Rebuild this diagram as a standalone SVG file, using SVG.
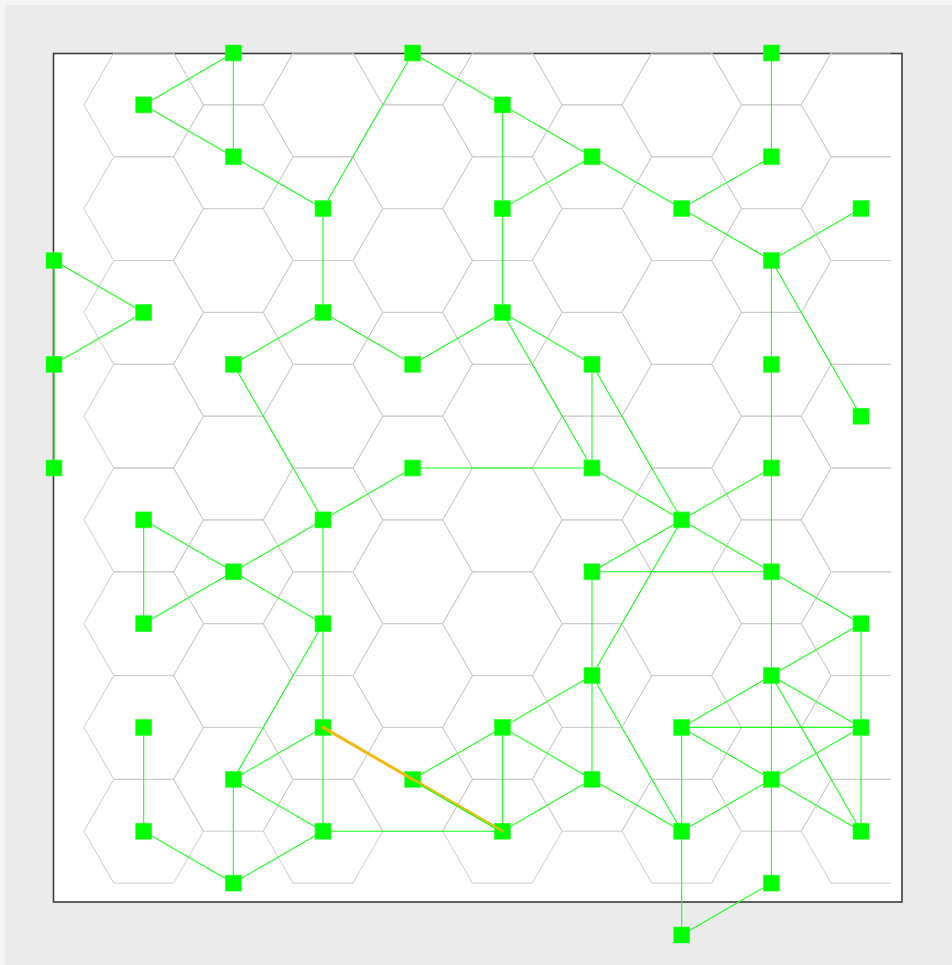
<svg xmlns="http://www.w3.org/2000/svg" xmlns:xlink="http://www.w3.org/1999/xlink" width="952" height="965" viewBox="0 0 952 965">
<style>
.hex{fill:none;stroke:#cdcdcd;stroke-width:1}
.e{stroke:#1cff1c;stroke-width:1.1;fill:none}
.n{fill:#00ff00;stroke:#3cff3c;stroke-width:0.6}
.hl{stroke:#f2b600;stroke-width:3;stroke-linecap:round;fill:none;opacity:0.95}
</style>
<defs>
<polygon id="hx" points="-59.78,0 -29.89,-51.88 29.89,-51.88 59.78,0 29.89,51.88 -29.89,51.88"/>
<path id="hxl" d="M29.89,-51.88 H-29.89 L-59.78,0 L-29.89,51.88 H29.89"/>
<g id="hcol">
<use href="#hx" y="0"/><use href="#hx" y="103.76"/><use href="#hx" y="207.52"/><use href="#hx" y="311.28"/>
<use href="#hx" y="415.04"/><use href="#hx" y="518.8"/><use href="#hx" y="622.56"/><use href="#hx" y="726.32"/>
</g>
<g id="hcolL">
<use href="#hxl" y="0"/><use href="#hxl" y="103.76"/><use href="#hxl" y="207.52"/><use href="#hxl" y="311.28"/>
<use href="#hxl" y="415.04"/><use href="#hxl" y="518.8"/><use href="#hxl" y="622.56"/><use href="#hxl" y="726.32"/>
</g>
<clipPath id="clipTop"><rect x="0" y="52.5" width="952" height="900"/></clipPath>
</defs>
<rect x="0" y="0" width="952" height="965" fill="#f5f5f5"/>
<rect x="5" y="5" width="947" height="960" fill="#ebebeb"/>
<rect x="53.5" y="53.5" width="848.5" height="848.5" fill="#ffffff" stroke="#3c3c3c" stroke-width="1.6"/>
<g id="grid" class="hex" clip-path="url(#clipTop)">
<use href="#hcol" x="143.7" y="104.9"/>
<use href="#hcol" x="233.3" y="53"/>
<use href="#hcol" x="323" y="104.9"/>
<use href="#hcol" x="412.7" y="53"/>
<use href="#hcol" x="502.4" y="104.9"/>
<use href="#hcol" x="592" y="53"/>
<use href="#hcol" x="681.7" y="104.9"/>
<use href="#hcol" x="771.4" y="53"/>
<use href="#hcolL" x="861" y="104.9"/>
</g>
<g id="connectors" class="e">
<line x1="143.7" y1="104.9" x2="233.3" y2="53"/>
<line x1="233.3" y1="53" x2="233.3" y2="156.8"/>
<line x1="143.7" y1="104.9" x2="233.3" y2="156.8"/>
<line x1="233.3" y1="156.8" x2="323" y2="208.6"/>
<line x1="323" y1="208.6" x2="412.7" y2="53"/>
<line x1="412.7" y1="53" x2="502.4" y2="104.9"/>
<line x1="502.4" y1="104.9" x2="502.4" y2="208.6"/>
<line x1="502.4" y1="104.9" x2="592" y2="156.8"/>
<line x1="592" y1="156.8" x2="502.4" y2="208.6"/>
<line x1="592" y1="156.8" x2="681.7" y2="208.6"/>
<line x1="681.7" y1="208.6" x2="771.4" y2="156.8"/>
<line x1="771.4" y1="156.8" x2="771.4" y2="53"/>
<line x1="681.7" y1="208.6" x2="771.4" y2="260.5"/>
<line x1="771.4" y1="260.5" x2="861" y2="208.6"/>
<line x1="771.4" y1="260.5" x2="861" y2="416.2"/>
<line x1="771.4" y1="260.5" x2="771.4" y2="364.3"/>
<line x1="771.4" y1="364.3" x2="771.4" y2="468"/>
<line x1="771.4" y1="468" x2="771.4" y2="571.8"/>
<line x1="771.4" y1="571.8" x2="771.4" y2="675.6"/>
<line x1="771.4" y1="675.6" x2="771.4" y2="779.3"/>
<line x1="771.4" y1="779.3" x2="771.4" y2="883.1"/>
<line x1="323" y1="208.6" x2="323" y2="312.4"/>
<line x1="323" y1="312.4" x2="233.3" y2="364.3"/>
<line x1="323" y1="312.4" x2="412.7" y2="364.3"/>
<line x1="412.7" y1="364.3" x2="502.4" y2="312.4"/>
<line x1="502.4" y1="312.4" x2="502.4" y2="208.6"/>
<line x1="502.4" y1="312.4" x2="592" y2="364.3"/>
<line x1="502.4" y1="312.4" x2="592" y2="468"/>
<line x1="592" y1="364.3" x2="592" y2="468"/>
<line x1="592" y1="364.3" x2="681.7" y2="519.9"/>
<line x1="54" y1="260.5" x2="143.7" y2="312.4"/>
<line x1="143.7" y1="312.4" x2="54" y2="364.3"/>
<line x1="54" y1="260.5" x2="54" y2="364.3"/>
<line x1="54" y1="364.3" x2="54" y2="468"/>
<line x1="233.3" y1="364.3" x2="323" y2="519.9"/>
<line x1="412.7" y1="468" x2="592" y2="468"/>
<line x1="412.7" y1="468" x2="323" y2="519.9"/>
<line x1="323" y1="519.9" x2="233.3" y2="571.8"/>
<line x1="143.7" y1="519.9" x2="233.3" y2="571.8"/>
<line x1="143.7" y1="519.9" x2="143.7" y2="623.7"/>
<line x1="143.7" y1="623.7" x2="233.3" y2="571.8"/>
<line x1="233.3" y1="571.8" x2="323" y2="623.7"/>
<line x1="323" y1="519.9" x2="323" y2="623.7"/>
<line x1="323" y1="623.7" x2="323" y2="727.4"/>
<line x1="323" y1="727.4" x2="323" y2="831.2"/>
<line x1="323" y1="623.7" x2="233.3" y2="779.3"/>
<line x1="592" y1="468" x2="681.7" y2="519.9"/>
<line x1="681.7" y1="519.9" x2="771.4" y2="468"/>
<line x1="681.7" y1="519.9" x2="592" y2="571.8"/>
<line x1="681.7" y1="519.9" x2="771.4" y2="571.8"/>
<line x1="681.7" y1="519.9" x2="592" y2="675.6"/>
<line x1="592" y1="571.8" x2="771.4" y2="571.8"/>
<line x1="592" y1="571.8" x2="592" y2="675.6"/>
<line x1="771.4" y1="571.8" x2="861" y2="623.7"/>
<line x1="861" y1="623.7" x2="771.4" y2="675.6"/>
<line x1="861" y1="623.7" x2="861" y2="727.4"/>
<line x1="592" y1="675.6" x2="502.4" y2="727.4"/>
<line x1="592" y1="675.6" x2="592" y2="779.3"/>
<line x1="592" y1="675.6" x2="681.7" y2="831.2"/>
<line x1="502.4" y1="727.4" x2="412.7" y2="779.3"/>
<line x1="502.4" y1="727.4" x2="502.4" y2="831.2"/>
<line x1="502.4" y1="727.4" x2="592" y2="779.3"/>
<line x1="592" y1="779.3" x2="502.4" y2="831.2"/>
<line x1="592" y1="779.3" x2="681.7" y2="831.2"/>
<line x1="323" y1="727.4" x2="233.3" y2="779.3"/>
<line x1="233.3" y1="779.3" x2="323" y2="831.2"/>
<line x1="233.3" y1="779.3" x2="233.3" y2="883.1"/>
<line x1="323" y1="831.2" x2="233.3" y2="883.1"/>
<line x1="143.7" y1="831.2" x2="233.3" y2="883.1"/>
<line x1="143.7" y1="727.4" x2="143.7" y2="831.2"/>
<line x1="323" y1="831.2" x2="502.4" y2="831.2"/>
<line x1="681.7" y1="727.4" x2="771.4" y2="675.6"/>
<line x1="681.7" y1="727.4" x2="861" y2="727.4"/>
<line x1="681.7" y1="727.4" x2="771.4" y2="779.3"/>
<line x1="681.7" y1="727.4" x2="681.7" y2="831.2"/>
<line x1="771.4" y1="675.6" x2="861" y2="727.4"/>
<line x1="771.4" y1="675.6" x2="861" y2="831.2"/>
<line x1="861" y1="727.4" x2="771.4" y2="779.3"/>
<line x1="861" y1="727.4" x2="861" y2="831.2"/>
<line x1="771.4" y1="779.3" x2="681.7" y2="831.2"/>
<line x1="771.4" y1="779.3" x2="861" y2="831.2"/>
<line x1="681.7" y1="831.2" x2="681.7" y2="935"/>
<line x1="681.7" y1="935" x2="771.4" y2="883.1"/>
</g>
<g id="nodes">
<g id="n2-0"><rect class="n" x="225.3" y="45" width="16" height="16"/></g>
<g id="n4-0"><rect class="n" x="404.7" y="45" width="16" height="16"/></g>
<g id="n8-0"><rect class="n" x="763.4" y="45" width="16" height="16"/></g>
<g id="n1-1"><rect class="n" x="135.7" y="96.9" width="16" height="16"/></g>
<g id="n5-1"><rect class="n" x="494.4" y="96.9" width="16" height="16"/></g>
<g id="n2-2"><rect class="n" x="225.3" y="148.8" width="16" height="16"/></g>
<g id="n6-2"><rect class="n" x="584" y="148.8" width="16" height="16"/></g>
<g id="n8-2"><rect class="n" x="763.4" y="148.8" width="16" height="16"/></g>
<g id="n3-3"><rect class="n" x="315" y="200.6" width="16" height="16"/></g>
<g id="n5-3"><rect class="n" x="494.4" y="200.6" width="16" height="16"/></g>
<g id="n7-3"><rect class="n" x="673.7" y="200.6" width="16" height="16"/></g>
<g id="n9-3"><rect class="n" x="853" y="200.6" width="16" height="16"/></g>
<g id="n0-4"><rect class="n" x="46" y="252.5" width="16" height="16"/></g>
<g id="n8-4"><rect class="n" x="763.4" y="252.5" width="16" height="16"/></g>
<g id="n1-5"><rect class="n" x="135.7" y="304.4" width="16" height="16"/></g>
<g id="n3-5"><rect class="n" x="315" y="304.4" width="16" height="16"/></g>
<g id="n5-5"><rect class="n" x="494.4" y="304.4" width="16" height="16"/></g>
<g id="n0-6"><rect class="n" x="46" y="356.3" width="16" height="16"/></g>
<g id="n2-6"><rect class="n" x="225.3" y="356.3" width="16" height="16"/></g>
<g id="n4-6"><rect class="n" x="404.7" y="356.3" width="16" height="16"/></g>
<g id="n6-6"><rect class="n" x="584" y="356.3" width="16" height="16"/></g>
<g id="n8-6"><rect class="n" x="763.4" y="356.3" width="16" height="16"/></g>
<g id="n9-7"><rect class="n" x="853" y="408.2" width="16" height="16"/></g>
<g id="n0-8"><rect class="n" x="46" y="460" width="16" height="16"/></g>
<g id="n4-8"><rect class="n" x="404.7" y="460" width="16" height="16"/></g>
<g id="n6-8"><rect class="n" x="584" y="460" width="16" height="16"/></g>
<g id="n8-8"><rect class="n" x="763.4" y="460" width="16" height="16"/></g>
<g id="n1-9"><rect class="n" x="135.7" y="511.9" width="16" height="16"/></g>
<g id="n3-9"><rect class="n" x="315" y="511.9" width="16" height="16"/></g>
<g id="n7-9"><rect class="n" x="673.7" y="511.9" width="16" height="16"/></g>
<g id="n2-10"><rect class="n" x="225.3" y="563.8" width="16" height="16"/></g>
<g id="n6-10"><rect class="n" x="584" y="563.8" width="16" height="16"/></g>
<g id="n8-10"><rect class="n" x="763.4" y="563.8" width="16" height="16"/></g>
<g id="n1-11"><rect class="n" x="135.7" y="615.7" width="16" height="16"/></g>
<g id="n3-11"><rect class="n" x="315" y="615.7" width="16" height="16"/></g>
<g id="n9-11"><rect class="n" x="853" y="615.7" width="16" height="16"/></g>
<g id="n6-12"><rect class="n" x="584" y="667.6" width="16" height="16"/></g>
<g id="n8-12"><rect class="n" x="763.4" y="667.6" width="16" height="16"/></g>
<g id="n1-13"><rect class="n" x="135.7" y="719.4" width="16" height="16"/></g>
<g id="n3-13"><rect class="n" x="315" y="719.4" width="16" height="16"/></g>
<g id="n5-13"><rect class="n" x="494.4" y="719.4" width="16" height="16"/></g>
<g id="n7-13"><rect class="n" x="673.7" y="719.4" width="16" height="16"/></g>
<g id="n9-13"><rect class="n" x="853" y="719.4" width="16" height="16"/></g>
<g id="n2-14"><rect class="n" x="225.3" y="771.3" width="16" height="16"/></g>
<g id="n4-14"><rect class="n" x="404.7" y="771.3" width="16" height="16"/></g>
<g id="n6-14"><rect class="n" x="584" y="771.3" width="16" height="16"/></g>
<g id="n8-14"><rect class="n" x="763.4" y="771.3" width="16" height="16"/></g>
<g id="n1-15"><rect class="n" x="135.7" y="823.2" width="16" height="16"/></g>
<g id="n3-15"><rect class="n" x="315" y="823.2" width="16" height="16"/></g>
<g id="n5-15"><rect class="n" x="494.4" y="823.2" width="16" height="16"/></g>
<g id="n7-15"><rect class="n" x="673.7" y="823.2" width="16" height="16"/></g>
<g id="n9-15"><rect class="n" x="853" y="823.2" width="16" height="16"/></g>
<g id="n2-16"><rect class="n" x="225.3" y="875.1" width="16" height="16"/></g>
<g id="n8-16"><rect class="n" x="763.4" y="875.1" width="16" height="16"/></g>
<g id="n7-17"><rect class="n" x="673.7" y="927" width="16" height="16"/></g>
</g>
<g id="highlight">
<line class="hl" x1="323" y1="727.4" x2="502.4" y2="831.2"/>
<line class="e" x1="412.7" y1="780.5" x2="502.4" y2="832.4"/>
</g>
</svg>
